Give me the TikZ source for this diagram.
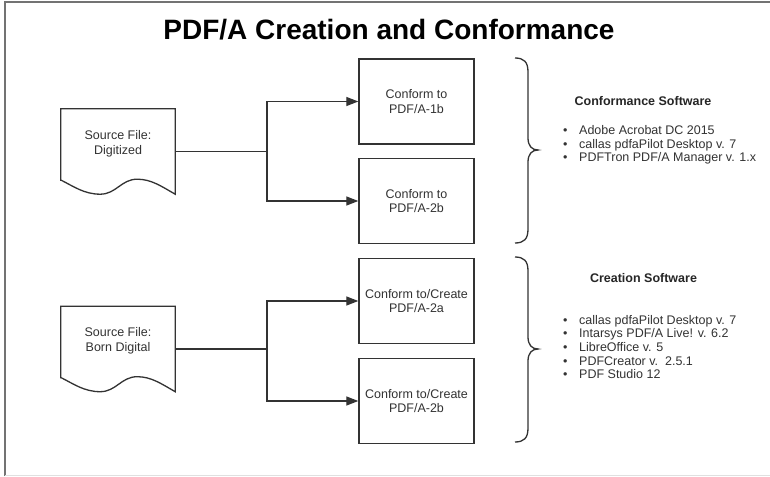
\documentclass[tikz,border=0pt]{standalone}
\usepackage{fontspec}
\setmainfont{Liberation Sans}
\usetikzlibrary{arrows.meta,calc}
\definecolor{ink}{HTML}{333333}
\newcommand\docoutline[1]{\draw[line] ($(#1.south west)+(0,-14)$) |- (#1.north east) -- (#1.south east)
  .. controls +(-14,-8) and +(14,0) .. ++(-38,-15)
  .. controls +(-16,0) and +(16,0) .. ++(-37,15)
  .. controls +(-16,0) and +(12,6) .. ++(-39,-14) -- cycle;}
\newcommand\bul{\makebox[16pt][l]{•}}
\begin{document}
\begin{tikzpicture}[x=1pt,y=-1pt,
  line/.style={draw=ink,line width=1.3pt},
  box/.style={draw=ink,line width=1.4pt,minimum width=115pt,minimum height=85pt,inner sep=0pt,align=center,font=\fontsize{12.5}{14.5}\selectfont,text=ink},
  docbox/.style={minimum width=114pt,minimum height=85pt,inner sep=0pt},
  doctext/.style={align=center,font=\fontsize{12.5}{15}\selectfont,text=ink},
  arr/.style={line,-{Triangle[length=12pt,width=9pt]}},
  brace/.style={draw=ink,line width=1.3pt},
  head/.style={font=\bfseries\fontsize{12.5}{15}\selectfont,text=black!85},
  listtext/.style={anchor=west,align=left,font=\fontsize{12.5}{13.6}\selectfont,text=ink,inner sep=0pt}]
\useasboundingbox (0,0) rectangle (770,476);
\fill[white] (0,0) rectangle (770,476);
% frame
\draw[black!55,line width=1.6pt] (5,476) -- (5,2) -- (770,2);
\draw[black!12,line width=1pt] (5,475) -- (770,475);
% title
\node[anchor=base,font=\bfseries\fontsize{28}{30}\selectfont] (title) at (389,40) {PDF/A Creation and Conformance};
% documents
\node[docbox] (d1) at (118,151.5) {};
\node[doctext] (d1t) at (118,143.5) {Source File:\\Digitized};
\docoutline{d1}
\node[docbox] (d2) at (118,349) {};
\node[doctext] (d2t) at (118,341) {Source File:\\Born Digital};
\docoutline{d2}
% boxes
\node[box] (b1) at (416.5,101.5) {Conform to\\PDF/A-1b};
\node[box] (b2) at (416.5,201) {Conform to\\PDF/A-2b};
\node[box] (b3) at (416.5,301) {Conform to/Create\\PDF/A-2a};
\node[box] (b4) at (416.5,401) {Conform to/Create\\PDF/A-2b};
% connectors
\coordinate (j1) at (267,151.5);
\coordinate (j2) at (267,349);
\draw[line] (d1.east) -- (j1);
\draw[arr] (j1) |- (b1.west);
\draw[arr] (j1) |- (b2.west);
\draw[line] (d2.east) -- (j2);
\draw[arr] (j2) |- (b3.west);
\draw[arr] (j2) |- (b4.west);
% braces
\draw[brace] (515,58) .. controls (524,58) and (528,62) .. (528,72) -- (528,138)
  .. controls (528,146) and (532,150) .. (538,150)
  .. controls (532,150) and (528,154) .. (528,162) -- (528,229)
  .. controls (528,239) and (524,243) .. (515,243);
\begin{scope}[shift={(0,199)}]
\draw[brace] (515,58) .. controls (524,58) and (528,62) .. (528,72) -- (528,138)
  .. controls (528,146) and (532,150) .. (538,150)
  .. controls (532,150) and (528,154) .. (528,162) -- (528,229)
  .. controls (528,239) and (524,243) .. (515,243);
\end{scope}
% software lists
\node[head] (h1) at (643,101) {Conformance Software};
\node[listtext] (l1) at (563,145) {\bul Adobe Acrobat DC 2015\\\bul callas pdfaPilot Desktop v. 7\\\bul PDFTron PDF/A Manager v. 1.x};
\node[head] (h2) at (643.5,278) {Creation Software};
\node[listtext] (l2) at (563,347) {\bul callas pdfaPilot Desktop v. 7\\\bul Intarsys PDF/A Live! v. 6.2\\\bul LibreOffice v. 5\\\bul PDFCreator v.~~2.5.1\\\bul PDF Studio 12};
\end{tikzpicture}
\end{document}
